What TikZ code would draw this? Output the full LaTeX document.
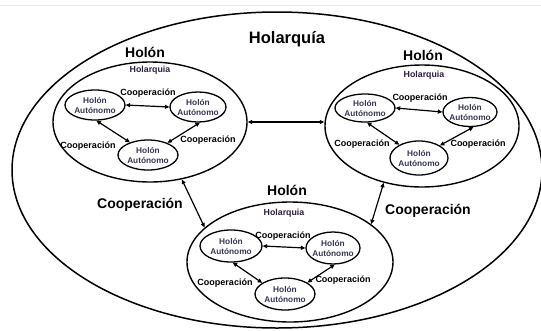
\documentclass[tikz,border=0pt]{standalone}
\usepackage{fontspec}
\setmainfont{Liberation Sans}
\usetikzlibrary{shapes.geometric,arrows.meta}
\definecolor{autotext}{RGB}{55,55,85}
\definecolor{holtext}{RGB}{45,30,65}
\definecolor{edgegray}{RGB}{232,232,232}
\begin{document}
\begin{tikzpicture}[x=1pt,y=-1pt,
  outerell/.style={draw,ellipse,line width=1.5pt,inner sep=0pt},
  holonell/.style={draw,ellipse,line width=1.4pt,inner sep=0pt},
  autoell/.style={draw,ellipse,line width=1.3pt,inner sep=0pt},
  autolabel/.style={align=center,inner sep=0pt,text=autotext,font=\fontsize{8.3}{10}\selectfont\bfseries},
  smallcoop/.style={anchor=base,inner sep=0pt,font=\fontsize{9}{10}\selectfont\bfseries},
  smallhol/.style={anchor=base,inner sep=0pt,text=holtext,font=\fontsize{8.8}{10}\selectfont\bfseries},
  biglabel/.style={anchor=base,inner sep=0pt,font=\fontsize{14}{16}\selectfont\bfseries},
  biarrow/.style={line width=1.2pt,{Triangle[length=4.5pt,width=4pt]}-{Triangle[length=4.5pt,width=4pt]}}
]
\useasboundingbox (0,0) rectangle (541,330);
\fill[white] (0,0) rectangle (541,330);
\draw[edgegray,line width=0.8pt] (0,5) -- (541,5);

% outer holarchy
\node[outerell,minimum width=530pt,minimum height=316pt] (outer) at (277,170) {};
\node[anchor=base,inner sep=0pt,font=\fontsize{16.5}{18}\selectfont\bfseries] (title) at (287,43) {Holarquía};

% holons
\node[holonell,minimum width=194pt,minimum height=120pt] (H1) at (150,122) {};
\node[holonell,minimum width=194pt,minimum height=122pt] (H2) at (422,126) {};
\node[holonell,minimum width=206pt,minimum height=120pt] (H3) at (290,262) {};

\node[biglabel] (t1) at (145,57) {Holón};
\node[biglabel] (t2) at (423,60) {Holón};
\node[biglabel] (t3) at (287,195) {Holón};

\node[smallhol] (s1) at (150,72) {Holarquia};
\node[smallhol] (s2) at (424,77) {Holarquia};
\node[smallhol] (s3) at (284,215) {Holarquia};

\node[biglabel] (c1) at (140,208) {Cooperación};
\node[biglabel] (c2) at (428,214) {Cooperación};

% inner autonomous holons: holon 1
\node[autoell,minimum width=60pt,minimum height=30pt] (L1) at (95,105) {};
\node[autoell,minimum width=56pt,minimum height=30pt] (R1) at (198,107) {};
\node[autoell,minimum width=60pt,minimum height=30pt] (B1) at (148,155) {};
% holon 2
\node[autoell,minimum width=60pt,minimum height=28pt] (L2) at (365,108) {};
\node[autoell,minimum width=54pt,minimum height=29pt] (R2) at (470,112) {};
\node[autoell,minimum width=58pt,minimum height=34pt] (B2) at (419,158) {};
% holon 3
\node[autoell,minimum width=62pt,minimum height=32pt] (L3) at (231,246) {};
\node[autoell,minimum width=54pt,minimum height=32pt] (R3) at (333,248) {};
\node[autoell,minimum width=60pt,minimum height=32pt] (B3) at (285,294) {};

\foreach \n in {L1,R1,B1,L2,R2,B2,L3,R3,B3}
  \node[autolabel] (lab\n) at (\n.center) {Holón\\Autónomo};

% cooperation labels
\node[smallcoop] (k1a) at (148,95) {Cooperación};
\node[smallcoop] (k1b) at (88,148) {Cooperación};
\node[smallcoop] (k1c) at (208,142) {Cooperación};
\node[smallcoop] (k2a) at (420,100) {Cooperación};
\node[smallcoop] (k2b) at (362,146) {Cooperación};
\node[smallcoop] (k2c) at (478,146) {Cooperación};
\node[smallcoop] (k3a) at (283,238) {Cooperación};
\node[smallcoop] (k3b) at (225,285) {Cooperación};
\node[smallcoop] (k3c) at (343,282) {Cooperación};

% arrows inside holons
\draw[biarrow] (L1.east) -- (R1.west);
\draw[biarrow] (L1.-85) -- (B1.145);
\draw[biarrow] (B1.32) -- (R1.-83);
\draw[biarrow] (L2.east) -- (R2.west);
\draw[biarrow] (L2.-82) -- (B2.146);
\draw[biarrow] (B2.31) -- (R2.-77);
\draw[biarrow] (L3.east) -- (R3.west);
\draw[biarrow] (L3.-84) -- (B3.154);
\draw[biarrow] (B3.27) -- (R3.-84);

% arrows between holons
\draw[biarrow] (H1.east) -- (H1.east -| H2.west);
\draw[biarrow] (H1.-61.5) -- (H3.158.8);
\draw[biarrow] (H2.236.5) -- (H3.25.6);
\end{tikzpicture}
\end{document}
